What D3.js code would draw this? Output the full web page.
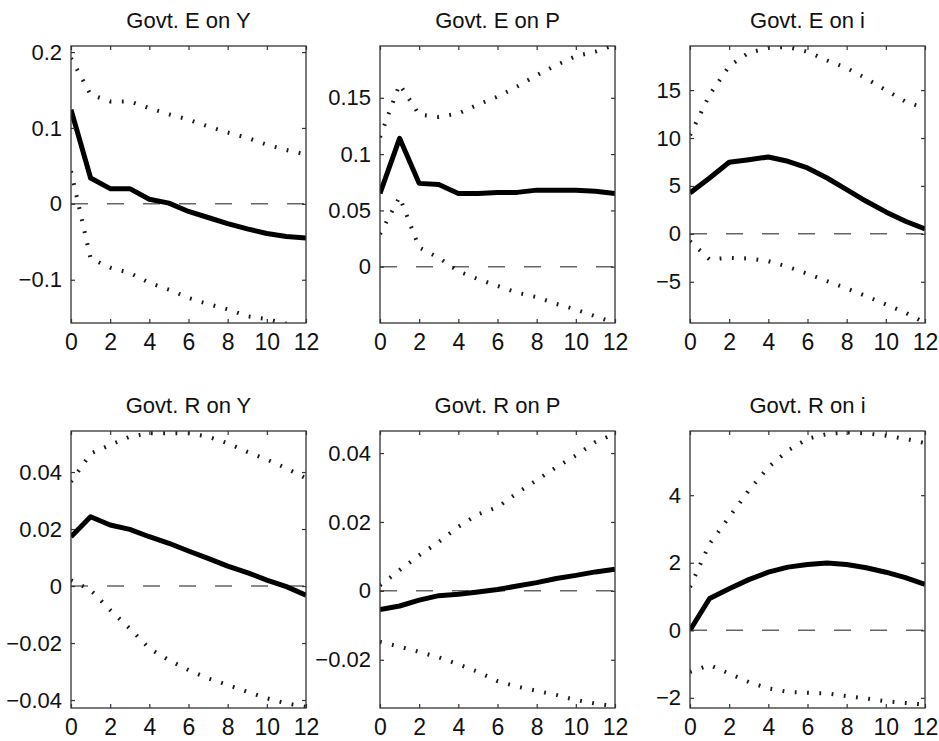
<!DOCTYPE html>
<html>
<head>
<meta charset="utf-8">
<script src="https://cdn.jsdelivr.net/npm/d3@7/dist/d3.min.js"></script>
<style>
  html, body { margin: 0; padding: 0; background: #fff; }
  svg { display: block; font-family: "Liberation Sans", Arial, sans-serif; }
</style>
</head>
<body>
<div id="chart"></div>
<script>
// Impulse responses: horizon 0..12, point estimate plus lower/upper bands
const horizon = [0, 1, 2, 3, 4, 5, 6, 7, 8, 9, 10, 11, 12];
const xTicks = [0, 2, 4, 6, 8, 10, 12];

// Govt. E on Y
const eyMain  = [0.124, 0.034, 0.020, 0.020, 0.006, 0.001, -0.010, -0.018, -0.026, -0.033, -0.039, -0.043, -0.045];
const eyUpper = [0.192, 0.144, 0.135, 0.135, 0.126, 0.118, 0.111, 0.102, 0.094, 0.087, 0.078, 0.071, 0.065];
const eyLower = [0.043, -0.072, -0.084, -0.091, -0.104, -0.113, -0.124, -0.132, -0.139, -0.148, -0.152, -0.158, -0.164];

// Govt. E on P
const epMain  = [0.065, 0.114, 0.074, 0.073, 0.065, 0.065, 0.066, 0.066, 0.068, 0.068, 0.068, 0.067, 0.065];
const epUpper = [0.115, 0.162, 0.135, 0.133, 0.136, 0.144, 0.151, 0.160, 0.170, 0.179, 0.187, 0.191, 0.197];
const epLower = [0.029, 0.062, 0.017, 0.008, -0.004, -0.011, -0.017, -0.023, -0.027, -0.033, -0.038, -0.044, -0.050];

// Govt. E on i
const eiMain  = [4.27, 5.83, 7.47, 7.74, 8.02, 7.57, 6.88, 5.83, 4.62, 3.40, 2.29, 1.32, 0.52];
const eiUpper = [10.3, 14.5, 17.5, 18.9, 19.4, 19.5, 19.0, 18.1, 17.3, 16.2, 15.0, 13.8, 13.1];
const eiLower = [-0.76, -2.67, -2.50, -2.57, -2.85, -3.44, -4.17, -4.93, -5.69, -6.49, -7.36, -8.23, -9.27];

// Govt. R on Y
const ryMain  = [0.0173, 0.0243, 0.0214, 0.0199, 0.0173, 0.0150, 0.0123, 0.0097, 0.0070, 0.0047, 0.0021, -0.0002, -0.0032];
const ryUpper = [0.0366, 0.0465, 0.0495, 0.0524, 0.0536, 0.0536, 0.0536, 0.0524, 0.0501, 0.0471, 0.0444, 0.0413, 0.0378];
const ryLower = [0.0020, -0.0014, -0.0084, -0.0149, -0.0219, -0.0260, -0.0295, -0.0324, -0.0347, -0.0371, -0.0394, -0.0412, -0.0424];

// Govt. R on P
const rpMain  = [-0.0054, -0.0044, -0.0027, -0.0014, -0.0010, -0.0003, 0.0004, 0.0014, 0.0024, 0.0036, 0.0045, 0.0055, 0.0063];
const rpUpper = [0.0016, 0.0060, 0.0103, 0.0142, 0.0186, 0.0222, 0.0243, 0.0284, 0.0321, 0.0359, 0.0393, 0.0432, 0.0456];
const rpLower = [-0.0148, -0.0162, -0.0177, -0.0193, -0.0213, -0.0235, -0.0262, -0.0278, -0.0290, -0.0302, -0.0317, -0.0327, -0.0335];

// Govt. R on i
const riMain  = [0.00, 0.94, 1.23, 1.50, 1.72, 1.87, 1.95, 1.99, 1.95, 1.85, 1.72, 1.56, 1.36];
const riUpper = [1.28, 2.56, 3.35, 4.14, 4.83, 5.32, 5.67, 5.81, 5.86, 5.83, 5.76, 5.67, 5.54];
const riLower = [-1.23, -1.03, -1.28, -1.53, -1.72, -1.82, -1.85, -1.87, -1.95, -2.02, -2.10, -2.15, -2.20];

const titles = ["Govt. E on Y", "Govt. E on P", "Govt. E on i",
                "Govt. R on Y", "Govt. R on P", "Govt. R on i"];
const yDomains = [[-0.157, 0.208], [-0.05, 0.196], [-9.3, 19.6],
                  [-0.0428, 0.0544], [-0.034, 0.0464], [-2.3, 5.9]];
const yTicks = [[-0.1, 0, 0.1, 0.2], [0, 0.05, 0.1, 0.15], [-5, 0, 5, 10, 15],
                [-0.04, -0.02, 0, 0.02, 0.04], [-0.02, 0, 0.02, 0.04], [-2, 0, 2, 4]];
const series = [
  [eyMain, eyUpper, eyLower], [epMain, epUpper, epLower], [eiMain, eiUpper, eiLower],
  [ryMain, ryUpper, ryLower], [rpMain, rpUpper, rpLower], [riMain, riUpper, riLower]
];

const W = 939, H = 741;
const colLeft = [71, 380, 690];
const rowTop = [46, 431];
const boxW = 235, boxH = 277;

const svg = d3.select("#chart").append("svg")
  .attr("width", W).attr("height", H);

const fmt = v => String(v).replace("-", "\u2212");

series.forEach((s, i) => {
  const col = i % 3, row = Math.floor(i / 3);
  const g = svg.append("g")
    .attr("transform", `translate(${colLeft[col]},${rowTop[row]})`);

  const x = d3.scaleLinear().domain([0, 12]).range([0, boxW]);
  const y = d3.scaleLinear().domain(yDomains[i]).range([boxH, 0]);

  const clipId = `clip${i}`;
  g.append("clipPath").attr("id", clipId)
    .append("rect").attr("width", boxW).attr("height", boxH);

  const plot = g.append("g").attr("clip-path", `url(#${clipId})`);

  // zero reference
  plot.append("line")
    .attr("x1", 0).attr("x2", boxW)
    .attr("y1", y(0)).attr("y2", y(0))
    .attr("stroke", "#666").attr("stroke-width", 1.5)
    .attr("stroke-dasharray", "17,19");

  const line = d3.line().x((d, k) => x(horizon[k])).y(d => y(d));

  // confidence bands
  [s[1], s[2]].forEach(band => {
    plot.append("path").datum(band)
      .attr("d", line)
      .attr("fill", "none")
      .attr("stroke", "#1a1a1a")
      .attr("stroke-width", 4)
      .attr("stroke-dasharray", "1.8,10.5");
  });

  // point estimate
  plot.append("path").datum(s[0])
    .attr("d", line)
    .attr("fill", "none")
    .attr("stroke", "#000")
    .attr("stroke-width", 5)
    .attr("stroke-linejoin", "round");

  // axes: ticks inside on all four sides
  const tickLen = 4;
  const xAxis = g.append("g").attr("transform", `translate(0,${boxH})`)
    .call(d3.axisBottom(x).tickValues(xTicks).tickSize(-tickLen).tickPadding(11).tickFormat(fmt))
    .call(a => a.select(".domain").remove());
  g.append("g")
    .call(d3.axisTop(x).tickValues(xTicks).tickSize(-tickLen).tickFormat(""))
    .call(a => a.select(".domain").remove());
  const yAxis = g.append("g")
    .call(d3.axisLeft(y).tickValues(yTicks[i]).tickSize(-tickLen).tickPadding(9).tickFormat(fmt))
    .call(a => a.select(".domain").remove());
  g.append("g").attr("transform", `translate(${boxW},0)`)
    .call(d3.axisRight(y).tickValues(yTicks[i]).tickSize(-tickLen).tickFormat(""))
    .call(a => a.select(".domain").remove());

  g.selectAll(".tick line").attr("stroke", "#333").attr("stroke-width", 1.2);
  xAxis.selectAll(".tick text").attr("fill", "#111").style("font-size", "23px");
  yAxis.selectAll(".tick text").attr("fill", "#111").style("font-size", "22px");

  g.append("rect")
    .attr("width", boxW).attr("height", boxH)
    .attr("fill", "none").attr("stroke", "#333").attr("stroke-width", 1.3);

  g.append("text")
    .attr("x", boxW / 2).attr("y", -18)
    .attr("text-anchor", "middle")
    .attr("fill", "#111")
    .style("font-size", "22px")
    .text(titles[i]);
});
</script>
</body>
</html>
